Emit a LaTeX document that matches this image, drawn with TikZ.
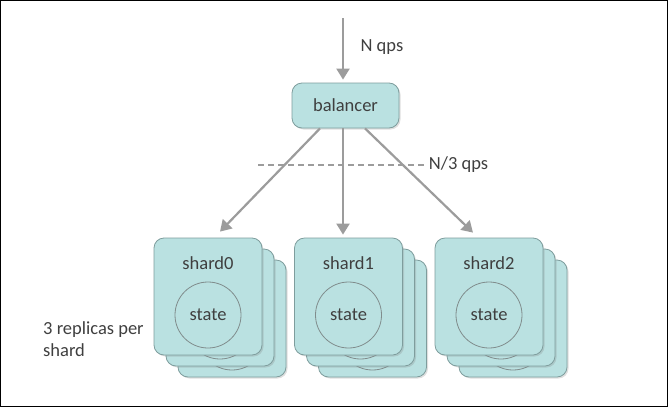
\documentclass[tikz,border=0pt]{standalone}
\usepackage{fontspec}
\setmainfont{Carlito}
\usetikzlibrary{arrows.meta, positioning, shadows}

\definecolor{boxfill}{HTML}{BAE1E1}
\definecolor{boxline}{HTML}{7E9D9D}
\definecolor{ringline}{HTML}{808C8C}
\definecolor{flowgray}{HTML}{9C9C9C}
\definecolor{textgray}{HTML}{3F3F3F}

\begin{document}
\begin{tikzpicture}[x=1pt, y=-1pt,
  every node/.style={text=textgray, font=\fontsize{18.5}{22}\selectfont},
  tealbox/.style={draw=boxline, fill=boxfill, line width=0.8pt, rounded corners=10pt,
    drop shadow={opacity=0.25, shadow xshift=1.5pt, shadow yshift=-1.5pt}},
  shardbox/.style={tealbox, minimum width=108pt, minimum height=117pt},
  statering/.style={circle, draw=ringline, fill=boxfill, line width=0.8pt, minimum size=66pt, inner sep=0pt},
  flow/.style={draw=flowgray, line width=2.2pt, -{Triangle[length=11pt, width=13pt]}},
  split/.style={draw=flowgray, line width=1.2pt, dash pattern=on 6pt off 4pt}]
  \useasboundingbox (0,0) rectangle (668,407);
  % Frame
  \draw[line width=1pt] (0.5,0.5) rectangle (667.5,406.5);

  % Balancer and incoming load
  \node[tealbox, minimum width=107pt, minimum height=45pt] (bal) at (345.5,105.5) {balancer};
  \coordinate (src) at (343,18);
  \draw[flow] (src) -- ([xshift=-2.5pt, yshift=3pt]bal.north);
  \node[anchor=west] (nq) at (357,47) {N qps};

  % Shards, each with two replicas behind it
  \foreach \i/\x in {0/208, 1/348.5, 2/489} {
    \foreach \k in {2,1} {
      \node[shardbox] at (\x+12*\k, 296.5+11*\k) {};
      \node[statering] at (\x+12*\k, 315+11*\k) {};
    }
    \node[shardbox] (s\i) at (\x,296.5) {};
    \node (l\i) at (\x,263) {shard\i};
    \node[statering] (c\i) at (\x,315) {state};
  }

  % Split of the load
  \draw[flow] ([xshift=-25.5pt]bal.south) -- ([xshift=12pt, yshift=6pt]s0.north);
  \draw[flow] ([xshift=-2.5pt]bal.south) -- ([xshift=-5.5pt, yshift=3pt]s1.north);
  \draw[flow] ([xshift=19.5pt]bal.south) -- ([xshift=-16pt, yshift=5pt]s2.north);
  \draw[split] (258,165) -- (425,165) node[anchor=west] (nq3) {N/3 qps};

  % Replica note
  \node[anchor=north west, align=left, inner sep=0pt] (rep) at (43,321) {3 replicas per\\shard};
\end{tikzpicture}
\end{document}
